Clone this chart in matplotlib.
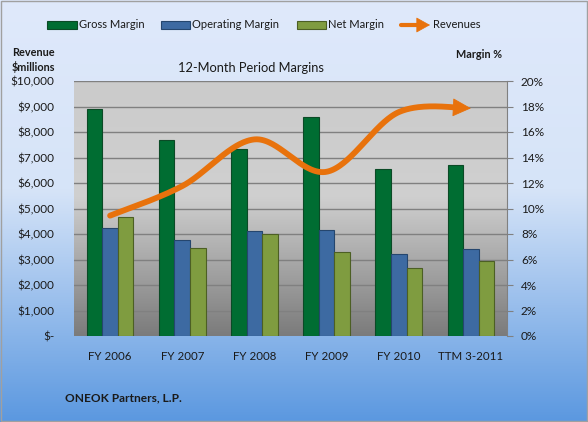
import numpy as np
import matplotlib
matplotlib.use("Agg")
import matplotlib.pyplot as plt
from matplotlib.patches import Rectangle, FancyArrowPatch
from matplotlib.colors import LinearSegmentedColormap

categories = ["FY 2006", "FY 2007", "FY 2008", "FY 2009", "FY 2010", "TTM 3-2011"]
gross_margin = [17.8, 15.35, 14.7, 17.2, 13.1, 13.4]
operating_margin = [8.5, 7.55, 8.25, 8.3, 6.45, 6.85]
net_margin = [9.3, 6.9, 8.0, 6.6, 5.3, 5.9]
revenues = [4720, 5880, 7710, 6440, 8780, 8930]
rev_ticks = [0, 1000, 2000, 3000, 4000, 5000, 6000, 7000, 8000, 9000, 10000]
margin_ticks = [0, 2, 4, 6, 8, 10, 12, 14, 16, 18, 20]

plt.rcParams['font.family'] = ['Lato', 'DejaVu Sans']
W, H = 588, 422
fig = plt.figure(figsize=(W / 100, H / 100), dpi=100)
TXT = "#1a1a1a"

# figure gradient background
bg = fig.add_axes([0, 0, 1, 1], zorder=-10)
bg_cmap = LinearSegmentedColormap.from_list("bg", [(0, "#dfe9fb"), (0.45, "#d6e4f8"), (1, "#5b98e0")])
bg.imshow(np.linspace(0, 1, 256).reshape(-1, 1), cmap=bg_cmap, aspect='auto', extent=[0, 1, 0, 1])
bg.set_xlim(0, 1); bg.set_ylim(0, 1)
bg.axis('off')
bg.add_patch(Rectangle((0.002, 0.003), 0.996, 0.994, fill=False, ec="#a0a0a0", lw=1))

def fx(px): return px / W
def fy(py): return 1 - py / H

ax = fig.add_axes([fx(74), fy(336), fx(507) - fx(74), fy(81) - fy(336)])
ax.set_zorder(1)
pa_cmap = LinearSegmentedColormap.from_list("pa", [(0, "#7b7b7b"), (0.55, "#d0d0d0"), (1, "#cbcbcb")])
ax.imshow(np.linspace(0, 1, 256).reshape(-1, 1), cmap=pa_cmap, aspect='auto',
          extent=[0, 1, 0, 1], transform=ax.transAxes, origin='lower', zorder=0)

n = len(categories)
x = np.arange(n)
bw = 0.215
ax.bar(x - bw, gross_margin, bw, color="#006d32", edgecolor="#0b4a26", lw=0.8, zorder=3)
ax.bar(x, operating_margin, bw, color="#3d6aa2", edgecolor="#25466e", lw=0.8, zorder=3)
ax.bar(x + bw, net_margin, bw, color="#7f9c40", edgecolor="#4c5f24", lw=0.8, zorder=3)

ax.set_xlim(-0.5, n - 0.5)
ax.set_ylim(0, 20)
ax.yaxis.grid(True, color="#808080", lw=1)
for gl in ax.get_ygridlines():
    gl.set_zorder(1)
ax.set_xticks(x)
ax.set_xticklabels(categories)
ax.tick_params(axis='x', length=0, pad=11, labelsize=8.3, colors=TXT)
for s in ['top', 'left', 'bottom']:
    ax.spines[s].set_visible(False)
ax.spines['right'].set_color("#808080")

ax2 = ax.twinx()
ax2.set_ylim(0, 10000)
ax2.set_yticks(rev_ticks)
ax2.set_yticklabels(["$-" if t == 0 else f"${t:,}" for t in rev_ticks])
ax2.yaxis.tick_left()
ax2.tick_params(axis='y', length=0, pad=14, labelsize=8.5, colors=TXT)
for s in ax2.spines.values():
    s.set_visible(False)

# margin axis on the right (set after twinx, which resets it)
ax.yaxis.tick_right()
ax.set_yticks(margin_ticks)
ax.set_yticklabels([f"{t}%" for t in margin_ticks])
ax.tick_params(axis='y', which='both', left=False, labelleft=False, right=True, labelright=True,
               length=4, color="#808080", pad=6, labelsize=8.5, colors=TXT)

# smoothed revenue line (Catmull-Rom through data points)
P = np.column_stack([x.astype(float), np.array(revenues, float)])
ext = np.vstack([P[0], P, P[-1]])
curve = []
for i in range(1, len(ext) - 2):
    p0, p1, p2, p3 = ext[i - 1], ext[i], ext[i + 1], ext[i + 2]
    for t in np.linspace(0, 1, 60, endpoint=False):
        t2, t3 = t * t, t * t * t
        pt = 0.5 * ((2 * p1) + (-p0 + p2) * t + (2 * p0 - 5 * p1 + 4 * p2 - p3) * t2
                    + (-p0 + 3 * p1 - 3 * p2 + p3) * t3)
        curve.append(pt)
curve.append(P[-1])
curve = np.array(curve)
cut = curve[:, 0] <= P[-1, 0] - 0.2
orange = "#e8720c"
ax2.plot(curve[cut, 0], curve[cut, 1], color=orange, lw=4.2, solid_capstyle='round', zorder=5)
base = curve[cut][-1]
ax2.annotate("", xy=(P[-1, 0], P[-1, 1]), xytext=(base[0], base[1]),
             arrowprops=dict(arrowstyle='-|>,head_length=1.2,head_width=0.6', mutation_scale=10,
                             color=orange, lw=0.6, shrinkA=0, shrinkB=0), zorder=6)

# texts
fig.text(fx(251), fy(68), "12-Month Period Margins", ha='center', va='center', fontsize=9.3, color=TXT)
fig.text(fx(12), fy(52), "Revenue", ha='left', va='center', fontsize=7.8, fontweight='bold', color=TXT)
fig.text(fx(12), fy(67), "$millions", ha='left', va='center', fontsize=7.8, fontweight='bold', color=TXT)
fig.text(fx(456), fy(55), "Margin %", ha='left', va='center', fontsize=7.8, fontweight='bold', color=TXT)
fig.text(fx(65), fy(398), "ONEOK Partners, L.P.", ha='left', va='center', fontsize=8.6, fontweight='bold', color=TXT)

# legend
leg_y = 25
items = [(47, 77, "#006d32", "#0b4a26", "Gross Margin"),
         (161, 190, "#3d6aa2", "#25466e", "Operating Margin"),
         (297, 326, "#7f9c40", "#4c5f24", "Net Margin")]
for x0, x1, fc, ec, lab in items:
    bg.add_patch(Rectangle((fx(x0), fy(leg_y + 3.5)), fx(x1) - fx(x0), fy(leg_y - 3.5) - fy(leg_y + 3.5),
                           fc=fc, ec=ec, lw=0.8, transform=bg.transAxes))
    fig.text(fx(x1 + 2), fy(leg_y), lab, ha='left', va='center', fontsize=8, color=TXT)
bg.add_patch(FancyArrowPatch((fx(401), fy(leg_y)), (fx(421), fy(leg_y)),
                             arrowstyle='-', color=orange, lw=3, shrinkA=0, shrinkB=0,
                             transform=bg.transAxes))
bg.add_patch(FancyArrowPatch((fx(418), fy(leg_y)), (fx(430), fy(leg_y)),
                             arrowstyle='-|>,head_length=0.9,head_width=0.5', mutation_scale=10,
                             color=orange, lw=0.5, shrinkA=0, shrinkB=0, transform=bg.transAxes))
fig.text(fx(433), fy(leg_y), "Revenues", ha='left', va='center', fontsize=8, color=TXT)

fig.savefig("out.png", dpi=100)
